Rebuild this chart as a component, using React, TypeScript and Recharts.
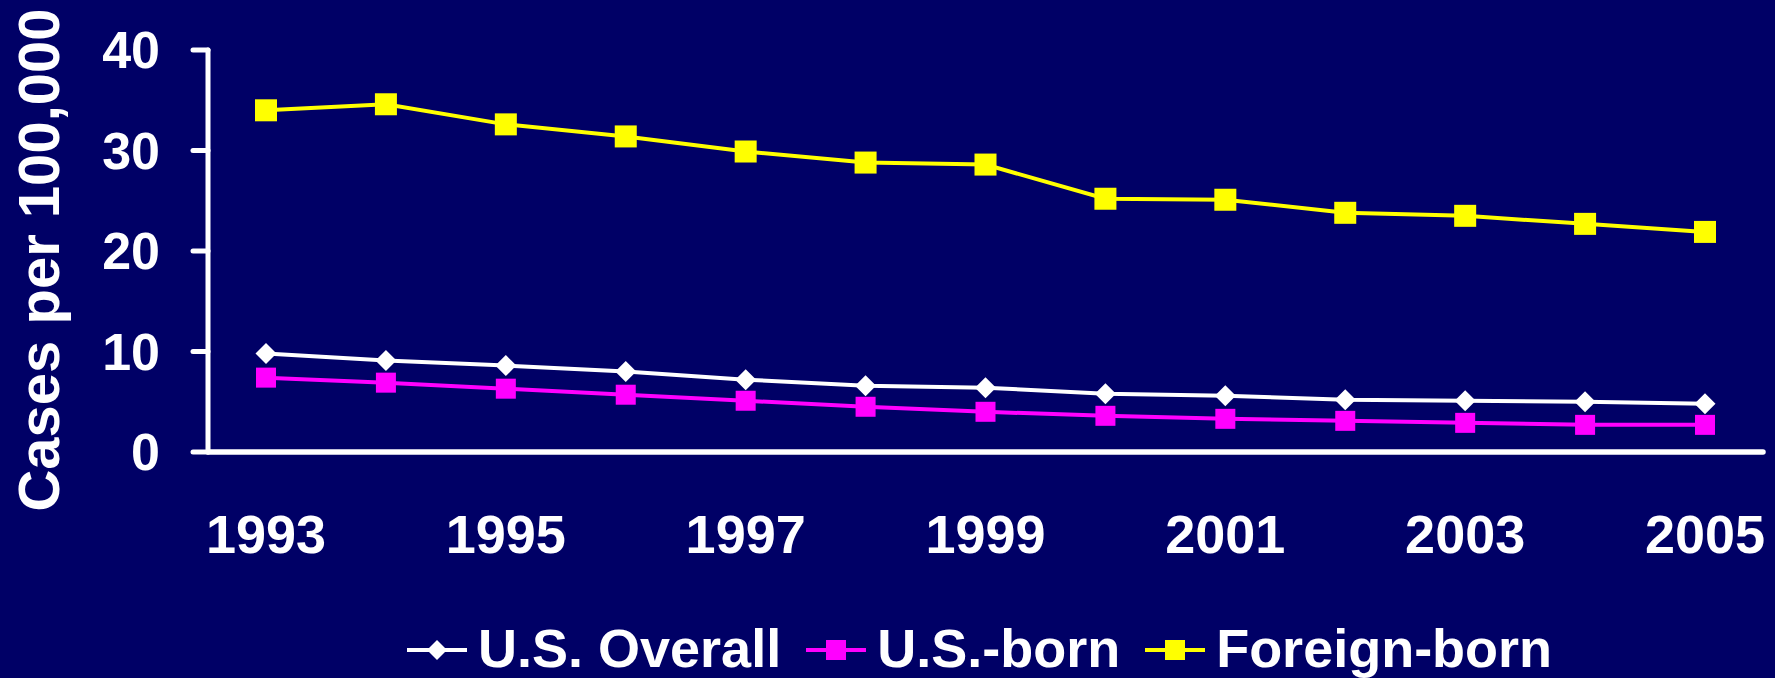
import { Legend, Line, LineChart, XAxis, YAxis } from "recharts";

const years = ["1993", "1994", "1995", "1996", "1997", "1998", "1999", "2000", "2001", "2002", "2003", "2004", "2005"];
const usOverall = [9.8, 9.1, 8.6, 8.0, 7.2, 6.6, 6.4, 5.8, 5.6, 5.2, 5.1, 5.0, 4.8];
const usBorn = [7.4, 6.9, 6.3, 5.7, 5.1, 4.5, 4.0, 3.6, 3.3, 3.1, 2.9, 2.7, 2.7];
const foreignBorn = [34.0, 34.6, 32.6, 31.4, 29.9, 28.8, 28.6, 25.2, 25.1, 23.8, 23.5, 22.7, 21.9];
const yTicks = [0, 10, 20, 30, 40];

const FONT = '"Liberation Sans", Arial, sans-serif';
const BG = "#000066";

type Marker = "diamond" | "square";

const series: { key: string; name: string; color: string; marker: Marker; size: number }[] = [
  { key: "overall", name: "U.S. Overall", color: "#ffffff", marker: "diamond", size: 10.5 },
  { key: "usBorn", name: "U.S.-born", color: "#ff00ff", marker: "square", size: 20 },
  { key: "foreignBorn", name: "Foreign-born", color: "#ffff00", marker: "square", size: 22 },
];

const data = years.map((year, i) => ({
  year,
  overall: usOverall[i],
  usBorn: usBorn[i],
  foreignBorn: foreignBorn[i],
}));

function markerShape(marker: Marker, size: number, color: string, cx: number, cy: number, key?: string) {
  if (marker === "diamond") {
    const pts = `${cx},${cy - size} ${cx + size},${cy} ${cx},${cy + size} ${cx - size},${cy}`;
    return <polygon key={key} points={pts} fill={color} />;
  }
  return <rect key={key} x={cx - size / 2} y={cy - size / 2} width={size} height={size} fill={color} />;
}

function LegendContent() {
  return (
    <div
      style={{
        display: "flex",
        alignItems: "center",
        height: 58,
        paddingLeft: 407,
        fontFamily: FONT,
        fontWeight: 700,
        fontSize: 54,
        lineHeight: "58px",
        color: "#ffffff",
        whiteSpace: "nowrap",
      }}
    >
      {series.map((s) => (
        <div key={s.key} style={{ display: "flex", alignItems: "center", marginRight: 25 }}>
          <svg width={60} height={58} style={{ marginRight: 11 }}>
            <line x1={0} y1={31} x2={60} y2={31} stroke={s.color} strokeWidth={4} />
            {markerShape(s.marker, s.marker === "diamond" ? 10 : 20, s.color, 30, 31)}
          </svg>
          <span>{s.name}</span>
        </div>
      ))}
    </div>
  );
}

export default function App() {
  return (
    <div style={{ width: 1775, height: 678, background: BG, overflow: "hidden", position: "relative" }}>
      <style>{"body{margin:0;background:#000066;overflow:hidden}"}</style>
      <LineChart width={1775} height={678} data={data} margin={{ top: 50, right: 12, left: 0, bottom: 68 }}>
        <XAxis
          dataKey="year"
          interval={1}
          padding={{ left: 58, right: 58 }}
          height={100}
          tickLine={false}
          tickSize={0}
          tickMargin={63}
          axisLine={{ stroke: "#ffffff", strokeWidth: 5.5, strokeLinecap: "round" }}
          tick={{ fill: "#ffffff", fontSize: 54, fontWeight: 700, fontFamily: FONT }}
        />
        <YAxis
          width={208}
          domain={[0, 40]}
          ticks={yTicks}
          interval={0}
          tickSize={15}
          tickMargin={33}
          axisLine={{ stroke: "#ffffff", strokeWidth: 5, strokeLinecap: "round" }}
          tickLine={{ stroke: "#ffffff", strokeWidth: 5, strokeLinecap: "round" }}
          tick={{ fill: "#ffffff", fontSize: 52, fontWeight: 700, fontFamily: FONT }}
          label={{
            value: "Cases per 100,000",
            content: (props: any) => {
              const vb = props.viewBox || { x: 0, y: 50, width: 208, height: 402 };
              const x = 59;
              const y = vb.y + vb.height / 2 + 9;
              return (
                <text
                  x={x}
                  y={y}
                  transform={`rotate(-90 ${x} ${y})`}
                  textAnchor="middle"
                  fill="#ffffff"
                  fontSize={58}
                  fontWeight={700}
                  fontFamily={FONT}
                >
                  Cases per 100,000
                </text>
              );
            },
          }}
        />
        <Legend
          verticalAlign="bottom"
          content={() => <LegendContent />}
          wrapperStyle={{ top: 619, left: 0, width: 1775, height: 58 }}
        />
        {series.map((s) => (
          <Line
            key={s.key}
            dataKey={s.key}
            name={s.name}
            stroke={s.color}
            strokeWidth={4}
            isAnimationActive={false}
            dot={(props: any) =>
              markerShape(s.marker, s.size, s.color, props.cx, props.cy, `${s.key}-${props.index}`)
            }
            activeDot={false}
          />
        ))}
      </LineChart>
    </div>
  );
}
